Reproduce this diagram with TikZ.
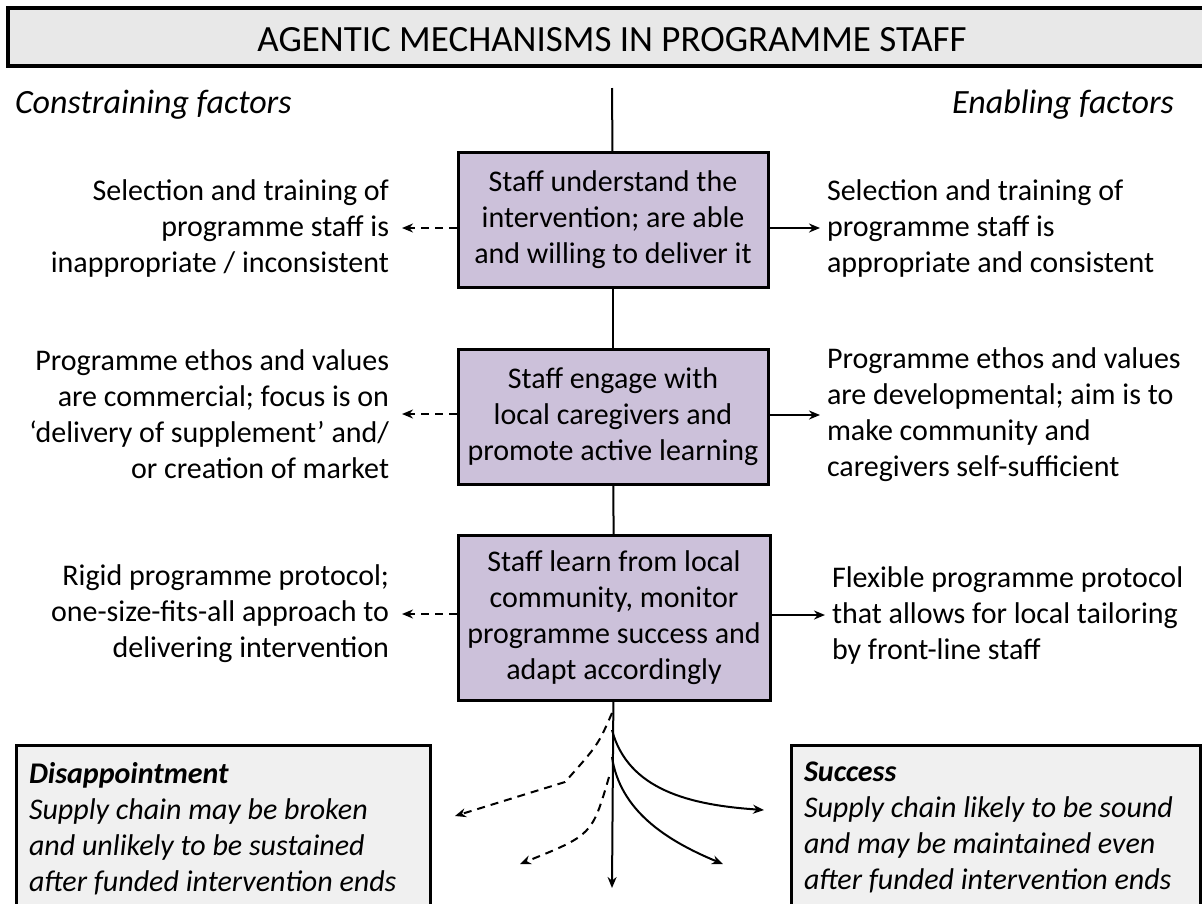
\documentclass[tikz,border=0pt]{standalone}
\usepackage{fontspec}
\setmainfont{Carlito}
\usetikzlibrary{arrows.meta}
\definecolor{mechfill}{HTML}{CCC1DA}
\definecolor{titlefill}{HTML}{E8E8E8}
\definecolor{outfill}{HTML}{F0F0F0}

\begin{document}
\begin{tikzpicture}[x=1pt, y=-1pt, line width=2pt,
  >={Stealth[length=11pt, width=9pt]},
  mech/.style={draw, line width=3pt, fill=mechfill, minimum width=310pt,
    minimum height=135pt, inner sep=0pt, align=center,
    font=\fontsize{30}{36}\selectfont},
  factor/.style={inner sep=0pt, font=\fontsize{30}{36}\selectfont},
  outcome/.style={inner sep=0pt, align=left, anchor=north west,
    font=\fontsize{30}{36}\selectfont\itshape},
  broken/.style={dash pattern=on 8pt off 6pt}]

\useasboundingbox (0,0) rectangle (1202,903);

% title bar
\draw [fill=titlefill, line width=3.5pt] (8,8) rectangle (1220,66);
\node (title) at (612,40) {\fontsize{37}{40}\selectfont AGENTIC MECHANISMS IN PROGRAMME STAFF};

\node [factor, anchor=west] (constr) at (14,105) {\fontsize{34}{36}\selectfont\itshape Constraining factors};
\node [factor, anchor=east] (enabl) at (1175,105) {\fontsize{34}{36}\selectfont\itshape Enabling factors};

% the three mechanisms
\coordinate (top) at (612,88);
\node [mech] (understand) at (613,220) {Staff understand the\\intervention; are able\\and willing to deliver it};
\node [mech] (engage) at (613,417) {Staff engage with\\local caregivers and\\promote active learning};
\node [mech, minimum width=312pt, minimum height=165pt] (learn) at (614,618) {Staff learn from local\\community, monitor\\programme success and\\adapt accordingly};

\draw (top) -- (understand);
\draw (understand) -- (engage);
\draw (engage) -- (learn);

% constraining side
\node [factor, anchor=east, align=right] (selbad) at (390,228) {Selection and training of\\programme staff is\\inappropriate / inconsistent};
\node [factor, anchor=east, align=right] (ethosbad) at (390,414) {Programme ethos and values\\are commercial; focus is on\\`delivery of supplement' and/\\or creation of market};
\node [factor, anchor=east, align=right] (rigid) at (390,614) {Rigid programme protocol;\\one-size-fits-all approach to\\delivering intervention};

\draw [->, broken, shorten >=12pt] (understand.west |- selbad.east) -- (selbad.east);
\draw [->, broken, shorten >=12pt] (engage.west |- ethosbad.east) -- (ethosbad.east);
\draw [->, broken, shorten >=12pt] (learn.west |- rigid.east) -- (rigid.east);

% enabling side
\node [factor, anchor=west, align=left] (selgood) at (826,228) {Selection and training of\\programme staff is\\appropriate and consistent};
\node [factor, anchor=west, align=left] (ethosgood) at (826,415) {Programme ethos and values\\are developmental; aim is to\\make community and\\caregivers self-sufficient};
\node [factor, anchor=west, align=left] (flex) at (831,615) {Flexible programme protocol\\that allows for local tailoring\\by front-line staff};

\draw [->, shorten >=6pt] (understand.east |- selgood.west) -- (selgood.west);
\draw [->, shorten >=6pt] (engage.east |- ethosgood.west) -- (ethosgood.west);
\draw [->, shorten >=6pt] (learn.east |- flex.west) -- (flex.west);

% outcomes
\draw [fill=outfill, line width=3pt] (16,930) |- (430,745) -- (430,930);
\draw [fill=outfill, line width=3pt] (791,930) |- (1200,745) -- (1200,930);
\node [outcome] (fail) at (28,761) {\textbf{Disappointment}\\Supply chain may be broken\\and unlikely to be sustained\\after funded intervention ends};
\node [outcome] (success) at (803,761) {\textbf{Success}\\Supply chain likely to be sound\\and may be maintained even\\after funded intervention ends};

% fan of pathways
\coordinate (down) at (612,888);
\coordinate (d1) at (612,713);
\coordinate (k1) at (565,782);
\coordinate (e1) at (455,816);
\coordinate (d2) at (609,777);
\coordinate (e2) at (520,864);
\coordinate (s1) at (612,730);
\coordinate (t1) at (764,810);
\coordinate (s2) at (612,757);
\coordinate (t2) at (723,864);

\draw [->] (learn) -- (down);
\draw [->, broken] (d1) .. controls (598,745) .. (k1) -- (e1);
\draw [->, broken] (d2) .. controls (592,835) .. (e2);
\draw [->] (s1) .. controls (628,790) and (690,805) .. (t1);
\draw [->] (s2) .. controls (620,810) and (665,840) .. (t2);

\end{tikzpicture}
\end{document}
